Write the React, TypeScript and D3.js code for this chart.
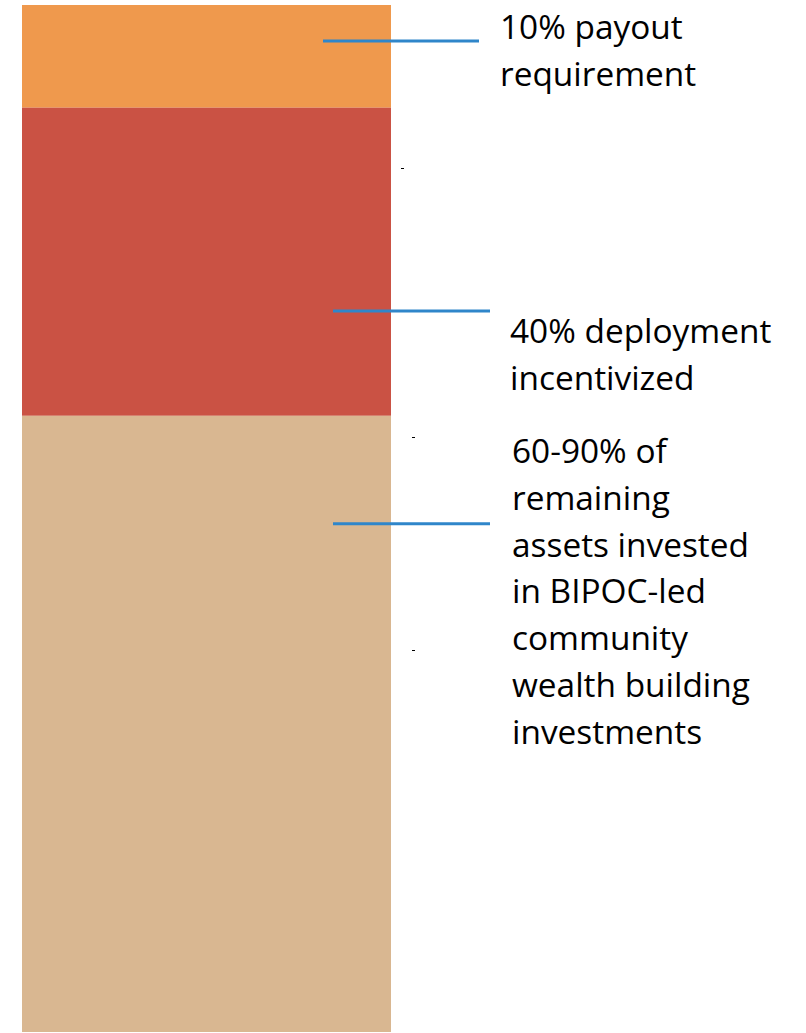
import React from "react";
import * as d3 from "d3";

const segments = ["Payout", "Deployment", "Remaining"];
const segmentValues = [10, 30, 60];
const segmentColors = ["#EF994D", "#CA5244", "#D9B791"];

const labelLines = [
  ["10% payout", "requirement"],
  ["40% deployment", "incentivized"],
  ["60-90% of", "remaining", "assets invested", "in BIPOC-led", "community", "wealth building", "investments"],
];
// leader anchor positions in data units (percent from top of bar)
const leaderValues = [3.5, 29.8, 50.5];
const leaderStarts = [323, 333, 333];
const leaderEnds = [479, 490, 490];
const labelX = [500, 510, 512];
const labelFirstBaseline = [39, 343, 463];

const W = 806;
const H = 1033;

export default function App() {
  const y = d3.scaleLinear().domain([0, 100]).range([5, 1032]);
  const x0 = 22;
  const x1 = 391;
  const stacked: { start: number; end: number; color: string; name: string }[] = [];
  let acc = 0;
  segmentValues.forEach((v, i) => {
    stacked.push({ start: acc, end: acc + v, color: segmentColors[i], name: segments[i] });
    acc += v;
  });
  const lineH = 46.8;
  return (
    <svg
      width={W}
      height={H}
      style={{ position: "absolute", left: 0, top: 0, background: "#fff" }}
      fontFamily="'Open Sans', sans-serif"
    >
      {stacked.map((s) => (
        <rect
          key={s.name}
          x={x0}
          y={y(s.start)}
          width={x1 - x0}
          height={y(s.end) - y(s.start)}
          fill={s.color}
        />
      ))}
      {leaderValues.map((v, i) => (
        <line
          key={i}
          x1={leaderStarts[i]}
          x2={leaderEnds[i]}
          y1={y(v)}
          y2={y(v)}
          stroke="#2F86CA"
          strokeWidth={3}
        />
      ))}
      {labelLines.map((lines, i) => (
        <text key={i} x={labelX[i]} y={labelFirstBaseline[i]} fontSize={33.4} fill="#000">
          {lines.map((l, j) => (
            <tspan key={j} x={labelX[i]} dy={j === 0 ? 0 : lineH}>
              {l}
            </tspan>
          ))}
        </text>
      ))}
      <rect x={401} y={168} width={3} height={1} fill="#000" />
      <rect x={412} y={437} width={3} height={1} fill="#000" />
      <rect x={412} y={650} width={3} height={1} fill="#000" />
    </svg>
  );
}
